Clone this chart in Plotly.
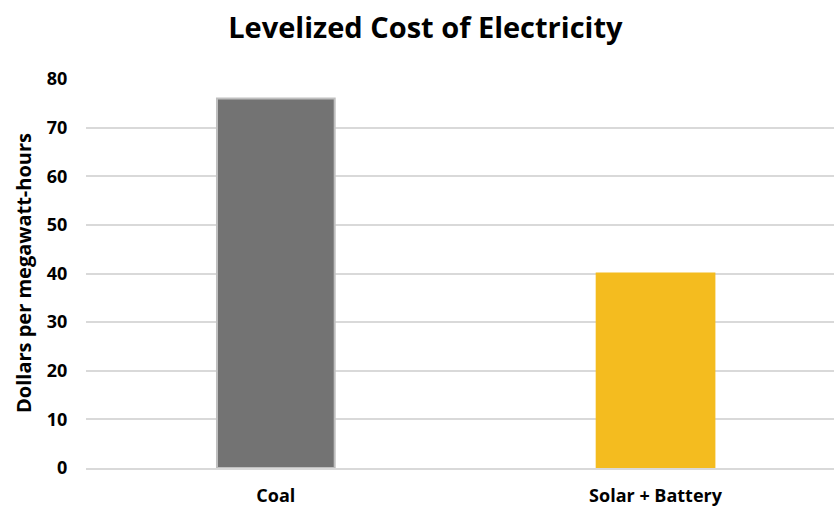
import plotly.graph_objects as go

categories = ["Coal", "Solar + Battery"]
values = [76, 40]
fill_colors = ["#737373", "#F4BC1F"]
line_colors = ["#BFBFBF", "#F4BC1F"]
y_ticks = [0, 10, 20, 30, 40, 50, 60, 70, 80]

FONT = "Open Sans"

fig = go.Figure(
    go.Bar(
        x=[0, 1],
        y=values,
        width=0.31,
        marker=dict(color=fill_colors, line=dict(color=line_colors, width=2)),
        hoverinfo="skip",
    )
)

fig.update_layout(
    width=834,
    height=506,
    autosize=False,
    margin=dict(l=86, r=0, t=79, b=38, autoexpand=False),
    paper_bgcolor="white",
    plot_bgcolor="white",
    showlegend=False,
    font=dict(family=FONT, color="#000000"),
    title=dict(
        text="<b>Levelized Cost of Electricity</b>",
        x=0.51,
        xanchor="center",
        y=0.945,
        yanchor="middle",
        font=dict(size=29, family=FONT, color="#000000"),
    ),
    annotations=[
        dict(
            text="<b>Dollars per megawatt-hours</b>",
            xref="paper",
            yref="paper",
            x=(23 - 86) / 748,
            y=(468 - 273) / 389,
            xanchor="center",
            yanchor="middle",
            textangle=-90,
            showarrow=False,
            font=dict(size=20, family=FONT, color="#000000"),
        )
    ],
)

fig.update_xaxes(
    range=[-0.5, 1.47],
    automargin=False,
    tickmode="array",
    tickvals=[0, 1],
    ticktext=["<b>" + c + "</b>" for c in categories],
    tickfont=dict(size=18, family=FONT, color="#000000"),
    ticks="outside",
    ticklen=10,
    tickcolor="rgba(0,0,0,0)",
    showgrid=False,
    showline=True,
    linecolor="#D9D9D9",
    linewidth=2,
    zeroline=False,
)

fig.update_yaxes(
    range=[0, 80],
    automargin=False,
    tickmode="array",
    tickvals=y_ticks,
    ticktext=["<b>%d</b>" % v for v in y_ticks],
    tickfont=dict(size=18, family=FONT, color="#000000"),
    ticks="outside",
    ticklen=14,
    tickcolor="rgba(0,0,0,0)",
    showgrid=True,
    gridcolor="#D9D9D9",
    gridwidth=1.5,
    zeroline=False,
    showline=False,
)

fig.write_html("out.html")
